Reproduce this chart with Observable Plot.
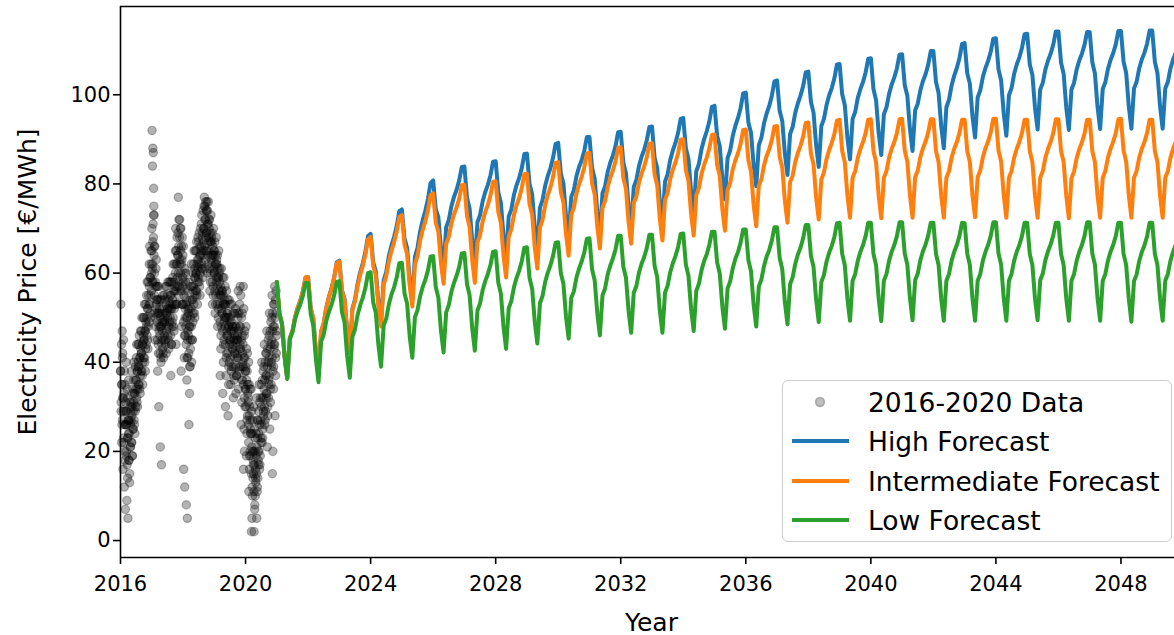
<!DOCTYPE html>
<html>
<head>
<meta charset="utf-8">
<script src="https://cdn.jsdelivr.net/npm/d3@7"></script>
<script src="https://cdn.jsdelivr.net/npm/@observablehq/plot@0.6"></script>
<style>
html, body { margin: 0; padding: 0; background: #fff; overflow: hidden; }
#wrap { position: relative; width: 1174px; height: 635px; overflow: hidden; font-family: "DejaVu Sans", sans-serif; color: #000; }
#wrap > svg { position: absolute; left: 0; top: 0; max-width: none !important; }
.lbl { position: absolute; white-space: nowrap; font-size: 25px; line-height: 1; }
#ylab { left: 27px; top: 281.5px; transform: translate(-50%, -50%) rotate(-90deg); }
#xlab { left: 651.5px; top: 622px; transform: translate(-50%, -50%); }
#legend { position: absolute; left: 782px; top: 380px; width: 390px; height: 162px; box-sizing: border-box;
  border: 1.6px solid #cccccc; border-radius: 6px; background: rgba(255,255,255,0.8); }
.row { position: absolute; left: 0; height: 30px; }
.row svg { position: absolute; left: 8px; top: 0; }
.row span { position: absolute; left: 85px; top: 50%; transform: translateY(-50%); font-size: 26.5px; white-space: nowrap; }
</style>
</head>
<body>
<div id="wrap"></div>
<script>
// ---------- axes ----------
const xDomain = [2016, 2050];
const yDomain = [-3.8, 119.8];
const xTicks = [2016, 2020, 2024, 2028, 2032, 2036, 2040, 2044, 2048];
const yTicks = [0, 20, 40, 60, 80, 100];

// ---------- observed 2016-2020 prices (per month: spread readings, then core readings) ----------
const obs2016 = [
  [38, 53, 31, 44, 22, 35, 47, 27, 42, 16],
  [29, 45, 22, 33, 12, 38, 26, 18, 7, 31],
  [26, 40, 19, 29, 9, 34, 23, 14, 5, 27],
  [24, 36, 18, 27, 13, 31, 21, 26, 29],
  [27, 38, 22, 30, 19, 33, 25, 29],
  [31, 40, 26, 33, 29, 36, 34],
  [36, 44, 31, 38, 34, 40, 39],
  [39, 46, 34, 41, 37, 43, 42],
  [42, 50, 37, 44, 40, 46, 45],
  [45, 53, 40, 47, 43, 49, 48],
  [50, 58, 45, 52, 48, 55, 53],
  [57, 66, 51, 59, 55, 62, 60]
];
const core2016 = [
  [38, 29, 35, 26, 41, 32], [32, 23, 29, 20, 35, 26], [29, 20, 26, 17, 32, 23], [27, 18, 24, 15, 30, 21],
  [31, 22, 28, 19, 34, 25], [36, 27, 33, 24, 39, 30], [41, 32, 38, 30, 44, 35], [44, 35, 41, 33, 47, 38],
  [47, 38, 44, 35, 50, 41], [50, 41, 47, 38, 53, 44], [55, 46, 52, 43, 58, 49], [62, 53, 59, 50, 65, 56]
];
const obs2017 = [
  [65, 92, 58, 84, 62, 88, 71, 87, 68, 79, 75, 73, 66],
  [55, 66, 45, 58, 50, 61, 53, 57, 52],
  [49, 57, 38, 54, 44, 51, 30, 47, 52],
  [46, 54, 21, 50, 41, 48, 17, 44, 49],
  [47, 55, 42, 51, 45, 49, 50],
  [49, 57, 44, 53, 47, 51, 52],
  [50, 58, 45, 54, 48, 52, 53],
  [50, 58, 37, 55, 44, 52, 48, 53],
  [54, 62, 48, 58, 52, 56, 57],
  [60, 70, 44, 65, 53, 62, 57, 64],
  [64, 77, 55, 72, 58, 68, 62, 70],
  [60, 70, 38, 66, 48, 63, 53, 57, 64]
];
const core2017 = [
  [70, 61, 67, 58, 73, 64], [60, 51, 57, 48, 63, 54], [54, 45, 51, 42, 57, 48], [51, 42, 48, 40, 54, 45],
  [52, 43, 49, 41, 55, 46], [54, 45, 51, 42, 57, 48], [55, 46, 52, 43, 58, 49], [55, 46, 52, 44, 58, 49],
  [59, 50, 56, 47, 62, 53], [65, 56, 62, 53, 68, 59], [69, 60, 66, 57, 72, 63], [65, 56, 62, 53, 68, 59]
];
const obs2018 = [
  [53, 66, 16, 60, 41, 56, 12, 50, 46, 58],
  [48, 60, 8, 54, 36, 50, 5, 45, 41, 52],
  [46, 58, 26, 52, 33, 48, 39, 43, 50],
  [52, 62, 40, 57, 45, 54, 49, 56],
  [57, 65, 51, 61, 55, 59, 60],
  [60, 67, 55, 63, 58, 61, 63],
  [62, 69, 57, 66, 60, 64, 65],
  [66, 73, 61, 69, 64, 67, 70],
  [70, 77, 61, 75, 65, 72, 68, 74],
  [69, 76, 60, 74, 64, 71, 67, 72],
  [65, 72, 56, 69, 60, 67, 63, 68],
  [62, 69, 53, 66, 57, 64, 60, 65]
];
const core2018 = [
  [58, 49, 55, 46, 61, 52], [53, 44, 50, 41, 56, 47], [51, 42, 48, 39, 54, 45], [57, 48, 54, 45, 60, 51],
  [62, 53, 59, 50, 65, 56], [65, 56, 62, 53, 68, 59], [67, 58, 64, 55, 70, 61], [71, 62, 68, 59, 74, 65],
  [75, 66, 72, 63, 76, 69], [74, 65, 71, 62, 76, 68], [70, 61, 67, 58, 73, 64], [67, 58, 64, 55, 70, 61]
];
const obs2019 = [
  [60, 67, 51, 64, 55, 62, 58, 63],
  [57, 64, 48, 61, 52, 59, 55, 60],
  [53, 61, 37, 57, 43, 55, 48, 51, 56],
  [51, 59, 33, 55, 40, 53, 45, 49, 54],
  [48, 57, 30, 53, 37, 50, 42, 46, 51],
  [46, 54, 28, 50, 35, 48, 40, 44, 49],
  [45, 53, 35, 49, 39, 47, 43, 48],
  [43, 51, 32, 47, 37, 45, 41, 46],
  [43, 52, 33, 48, 37, 45, 41, 46],
  [45, 56, 34, 51, 39, 48, 43, 57],
  [43, 55, 26, 50, 31, 46, 36, 40],
  [39, 57, 16, 52, 25, 46, 20, 41, 30, 34, 38]
];
const core2019 = [
  [65, 56, 62, 53, 68, 59], [62, 53, 59, 50, 65, 56], [58, 49, 55, 46, 61, 52], [56, 47, 53, 44, 59, 50],
  [53, 44, 50, 41, 56, 47], [51, 42, 48, 39, 54, 45], [50, 41, 47, 38, 53, 44], [48, 39, 45, 36, 51, 42],
  [48, 39, 45, 37, 51, 42], [50, 41, 47, 38, 53, 44], [48, 39, 45, 36, 51, 42], [44, 35, 41, 32, 47, 38]
];
const obs2020 = [
  [34, 48, 19, 43, 24, 38, 28, 35, 32],
  [26, 40, 11, 35, 16, 30, 20, 27, 24],
  [19, 34, 2, 29, 5, 24, 10, 20, 14, 17],
  [15, 30, 2, 25, 7, 20, 10, 16, 13],
  [19, 32, 5, 27, 11, 23, 14, 20, 17],
  [24, 35, 16, 31, 19, 27, 22],
  [30, 40, 22, 36, 25, 32, 28],
  [34, 44, 26, 40, 29, 37, 32],
  [37, 47, 21, 43, 28, 40, 32, 35],
  [41, 51, 25, 47, 31, 44, 35, 39],
  [45, 55, 15, 51, 20, 48, 34, 39, 43],
  [48, 57, 28, 54, 37, 51, 42, 46]
];
const core2020 = [
  [39, 30, 36, 27, 42, 33], [31, 22, 28, 19, 34, 25], [24, 15, 21, 12, 27, 18], [20, 11, 17, 8, 23, 14],
  [24, 15, 21, 12, 27, 18], [29, 20, 26, 17, 32, 23], [35, 26, 32, 23, 38, 29], [39, 30, 36, 27, 42, 33],
  [42, 33, 39, 30, 45, 36], [46, 37, 43, 34, 49, 40], [50, 41, 47, 38, 53, 44], [53, 44, 50, 41, 56, 47]
];
const obsYears = [2016, 2017, 2018, 2019, 2020];
const obsByYear = [obs2016, obs2017, obs2018, obs2019, obs2020];
const coreByYear = [core2016, core2017, core2018, core2019, core2020];

// ---------- monthly forecasts, Jan..Dec per row, years 2021..2049, then Jan 2050 ----------
const forecastYears = d3.range(2021, 2051);
const highForecast = [
  [58, 51, 48.5, 41.2, 36.3, 45.4, 47, 50.1, 52.2, 53.8, 55.9, 59],
  [59.1, 52.2, 49.8, 42.4, 37.5, 46.9, 48.8, 52.3, 54.7, 56.6, 59, 62.4],
  [62.8, 56.2, 54.2, 47.1, 42.5, 52, 54.1, 57.6, 60.2, 62.2, 64.8, 68.3],
  [68.8, 62.4, 60.4, 53.5, 49, 58.4, 60.3, 63.8, 66.2, 68.1, 70.5, 73.9],
  [74.3, 67.8, 65.7, 58.6, 54, 63.6, 65.7, 69.3, 71.9, 74, 76.6, 80.2],
  [80.8, 74.4, 72.5, 65.6, 61.2, 70.3, 71.9, 75, 77.1, 78.7, 80.8, 83.8],
  [83.9, 76.9, 74.5, 67.2, 62.3, 71.4, 73, 76.1, 78.2, 79.8, 81.9, 85],
  [85.1, 78.2, 75.8, 68.4, 63.5, 72.7, 74.3, 77.5, 79.7, 81.3, 83.5, 86.7],
  [86.8, 80, 77.7, 70.3, 65.5, 74.7, 76.4, 79.6, 81.8, 83.5, 85.8, 89],
  [89.2, 82.4, 80.1, 72.8, 68, 77.1, 78.6, 81.7, 83.8, 85.3, 87.4, 90.5],
  [90.5, 83.6, 81.2, 73.7, 68.8, 77.9, 79.5, 82.7, 84.8, 86.4, 88.5, 91.6],
  [91.7, 84.8, 82.4, 75.1, 70.2, 79.3, 80.9, 84, 86.1, 87.7, 89.8, 92.8],
  [92.9, 85.9, 83.6, 76.2, 71.3, 80.5, 82.2, 85.4, 87.5, 89.2, 91.4, 94.6],
  [94.8, 88, 85.6, 78.3, 73.5, 82.8, 84.5, 87.8, 90, 91.8, 94, 97.3],
  [97.5, 90.8, 88.5, 81.3, 76.5, 85.8, 87.5, 90.8, 93, 94.8, 97, 100.3],
  [100.5, 93.8, 91.5, 84.3, 79.5, 88.7, 90.4, 93.6, 95.8, 97.5, 99.8, 103],
  [103.2, 96.4, 94.1, 86.8, 82, 91.2, 92.8, 96, 98.1, 99.8, 101.9, 105],
  [105.2, 98.4, 96, 88.7, 83.8, 93, 94.6, 97.7, 99.9, 101.5, 103.7, 106.8],
  [106.9, 100.1, 97.7, 90.4, 85.5, 94.6, 96.2, 99.3, 101.3, 102.9, 105, 108.1],
  [108.2, 101.3, 98.8, 91.4, 86.5, 95.6, 97.2, 100.2, 102.3, 103.9, 105.9, 109],
  [109.1, 102.2, 99.8, 92.3, 87.4, 96.5, 98, 101, 103.1, 104.6, 106.7, 109.8],
  [109.8, 102.9, 100.4, 93, 88, 97.2, 98.9, 102.1, 104.3, 106, 108.2, 111.4],
  [111.6, 104.8, 102.5, 95.2, 90.4, 99.4, 101, 104, 106, 107.6, 109.6, 112.6],
  [112.7, 105.7, 103.2, 95.8, 90.8, 99.9, 101.5, 104.7, 106.8, 108.4, 110.5, 113.6],
  [113.7, 106.8, 104.5, 97.1, 92.2, 101.2, 102.7, 105.7, 107.7, 109.2, 111.2, 114.2],
  [114.2, 107.2, 104.7, 97.2, 92.1, 101.2, 102.7, 105.7, 107.7, 109.2, 111.2, 114.1],
  [114.1, 107.3, 104.8, 97.3, 92.3, 101.3, 102.8, 105.8, 107.8, 109.3, 111.3, 114.3],
  [114.3, 107.4, 104.9, 97.4, 92.4, 101.4, 102.9, 105.9, 107.9, 109.4, 111.4, 114.4],
  [114.4, 107.4, 104.9, 97.4, 92.4, 101.4, 102.9, 105.9, 107.9, 109.4, 111.4, 114.4],
  [114.4]
];
const intermediateForecast = [
  [58, 51, 48.5, 41.2, 36.3, 45.4, 47, 50.1, 52.2, 53.8, 55.9, 59],
  [59.1, 52.2, 49.8, 42.4, 37.5, 46.9, 48.8, 52.2, 54.6, 56.5, 58.9, 62.2],
  [62.6, 56, 53.9, 46.8, 42.2, 51.7, 53.7, 57.1, 59.6, 61.6, 64.1, 67.6],
  [68.1, 61.6, 59.5, 52.5, 48, 57.4, 59.3, 62.6, 65, 66.9, 69.3, 72.6],
  [73, 66.4, 64.3, 57.1, 52.5, 61.9, 63.9, 67.3, 69.7, 71.6, 74.1, 77.5],
  [77.9, 71.3, 69.3, 62.2, 57.6, 66.6, 68.1, 71.1, 73.2, 74.7, 76.7, 79.7],
  [79.8, 72.8, 70.3, 62.8, 57.8, 66.9, 68.5, 71.6, 73.7, 75.3, 77.4, 80.5],
  [80.6, 73.7, 71.3, 63.9, 59, 68.2, 69.8, 73, 75.2, 76.8, 79, 82.2],
  [82.3, 75.5, 73.2, 65.8, 61, 70.2, 72, 75.2, 77.5, 79.2, 81.5, 84.7],
  [84.9, 78.2, 75.9, 68.7, 63.9, 73, 74.7, 77.8, 79.9, 81.6, 83.7, 86.8],
  [87, 80.1, 77.7, 70.4, 65.5, 74.6, 76.2, 79.3, 81.4, 83, 85.1, 88.1],
  [88.2, 81.3, 78.9, 71.5, 66.6, 75.7, 77.2, 80.3, 82.3, 83.9, 86, 89],
  [89.1, 82.1, 79.7, 72.2, 67.3, 76.4, 78, 81.1, 83.2, 84.8, 86.9, 89.9],
  [90, 83.1, 80.7, 73.3, 68.4, 77.5, 79.1, 82.2, 84.3, 85.9, 88, 91],
  [91.1, 84.2, 81.8, 74.4, 69.5, 78.6, 80.2, 83.3, 85.3, 86.9, 89, 92.1],
  [92.2, 85.3, 82.8, 75.4, 70.5, 79.6, 81.1, 84.2, 86.3, 87.8, 89.9, 92.9],
  [93, 86.1, 83.6, 76.2, 71.3, 80.4, 81.9, 85, 87, 88.6, 90.6, 93.7],
  [93.8, 86.8, 84.4, 76.9, 72, 81, 82.6, 85.6, 87.6, 89.2, 91.2, 94.2],
  [94.4, 87.4, 84.9, 77.4, 72.4, 81.4, 82.9, 85.9, 87.9, 89.4, 91.4, 94.4],
  [94.5, 87.4, 84.9, 77.4, 72.3, 81.4, 82.9, 85.9, 87.9, 89.4, 91.4, 94.5],
  [94.6, 87.5, 85, 77.5, 72.4, 81.5, 83, 86, 88, 89.5, 91.5, 94.5],
  [94.5, 87.4, 84.9, 77.4, 72.4, 81.4, 82.9, 85.9, 87.9, 89.4, 91.4, 94.4],
  [94.4, 87.4, 84.9, 77.4, 72.5, 81.5, 83, 86, 88, 89.5, 91.5, 94.6],
  [94.6, 87.5, 85, 77.5, 72.4, 81.4, 82.9, 85.9, 87.9, 89.4, 91.4, 94.4],
  [94.4, 87.4, 84.9, 77.4, 72.4, 81.4, 82.9, 85.9, 87.9, 89.4, 91.4, 94.5],
  [94.5, 87.4, 84.9, 77.4, 72.3, 81.3, 82.8, 85.8, 87.8, 89.3, 91.3, 94.4],
  [94.4, 87.4, 84.9, 77.4, 72.4, 81.4, 82.9, 85.9, 87.9, 89.4, 91.4, 94.5],
  [94.6, 87.5, 85, 77.5, 72.4, 81.4, 82.9, 85.9, 87.9, 89.4, 91.4, 94.4],
  [94.4, 87.4, 84.9, 77.4, 72.4, 81.4, 82.9, 85.9, 87.9, 89.4, 91.4, 94.4],
  [94.4]
];
const lowForecast = [
  [58, 51, 48.5, 41.2, 36.3, 45.2, 46.7, 49.6, 51.5, 53, 54.9, 57.8],
  [57.8, 50.8, 48.2, 40.6, 35.5, 44.6, 46.2, 49.3, 51.3, 52.9, 55, 58],
  [58.2, 51.2, 48.9, 41.4, 36.5, 45.7, 47.4, 50.6, 52.8, 54.5, 56.7, 60],
  [60.2, 53.4, 51.1, 43.8, 39, 48.2, 49.8, 53, 55.2, 56.8, 59, 62.2],
  [62.3, 55.5, 53.2, 45.8, 41, 50.1, 51.7, 54.8, 56.9, 58.5, 60.6, 63.7],
  [63.8, 56.9, 54.5, 47.1, 42.2, 51.2, 52.8, 55.8, 57.8, 59.4, 61.4, 64.4],
  [64.5, 57.5, 55, 47.6, 42.6, 51.6, 53.2, 56.2, 58.2, 59.8, 61.8, 64.8],
  [64.9, 57.9, 55.4, 48, 43, 52.1, 53.7, 56.8, 58.9, 60.5, 62.6, 65.7],
  [65.8, 58.9, 56.5, 49.1, 44.2, 53.3, 54.9, 58, 60.1, 61.7, 63.8, 66.8],
  [66.9, 60, 57.6, 50.2, 45.3, 54.4, 55.9, 59, 61, 62.6, 64.6, 67.7],
  [67.8, 60.8, 58.4, 51, 46, 55, 56.6, 59.7, 61.7, 63.3, 65.3, 68.4],
  [68.4, 61.4, 59, 51.6, 46.6, 55.6, 57.1, 60.1, 62.1, 63.6, 65.6, 68.6],
  [68.6, 61.6, 59.1, 51.6, 46.6, 55.6, 57.2, 60.2, 62.2, 63.8, 65.8, 68.8],
  [68.9, 61.9, 59.4, 52, 47, 56, 57.6, 60.6, 62.7, 64.2, 66.3, 69.3],
  [69.3, 62.4, 59.9, 52.5, 47.5, 56.5, 58.1, 61.1, 63.2, 64.7, 66.8, 69.8],
  [69.8, 62.9, 60.4, 53, 48, 57, 58.6, 61.6, 63.7, 65.2, 67.3, 70.3],
  [70.3, 63.4, 60.9, 53.5, 48.5, 57.5, 59.1, 62.1, 64.2, 65.7, 67.8, 70.8],
  [70.8, 63.9, 61.4, 54, 49, 58, 59.6, 62.6, 64.6, 66.1, 68.1, 71.2],
  [71.3, 64.3, 61.8, 54.3, 49.3, 58.3, 59.8, 62.8, 64.8, 66.3, 68.3, 71.3],
  [71.3, 64.3, 61.8, 54.3, 49.2, 58.3, 59.8, 62.8, 64.8, 66.3, 68.3, 71.4],
  [71.4, 64.4, 61.9, 54.4, 49.4, 58.4, 59.9, 62.9, 64.9, 66.4, 68.4, 71.3],
  [71.3, 64.3, 61.8, 54.3, 49.3, 58.3, 59.8, 62.8, 64.8, 66.3, 68.3, 71.3],
  [71.2, 64.3, 61.8, 54.3, 49.3, 58.3, 59.8, 62.8, 64.8, 66.3, 68.3, 71.4],
  [71.4, 64.4, 61.9, 54.4, 49.3, 58.3, 59.8, 62.8, 64.8, 66.3, 68.3, 71.3],
  [71.3, 64.3, 61.8, 54.3, 49.4, 58.4, 59.9, 62.9, 64.9, 66.4, 68.4, 71.3],
  [71.3, 64.3, 61.8, 54.3, 49.3, 58.3, 59.8, 62.8, 64.8, 66.3, 68.3, 71.4],
  [71.4, 64.4, 61.9, 54.4, 49.3, 58.3, 59.8, 62.8, 64.8, 66.3, 68.3, 71.3],
  [71.3, 64.3, 61.8, 54.3, 49.1, 58.2, 59.7, 62.7, 64.7, 66.2, 68.2, 71.3],
  [71.3, 64.3, 61.8, 54.3, 49.3, 58.3, 59.8, 62.8, 64.8, 66.3, 68.3, 71.3],
  [71.3]
];

const seriesNames = ["High Forecast", "Intermediate Forecast", "Low Forecast"];
const seriesColors = ["#1f77b4", "#ff7f0e", "#2ca02c"];
const seriesData = [highForecast, intermediateForecast, lowForecast];
const obsLabel = "2016-2020 Data";

// ---------- tidy tables ----------
const obs = [];
obsYears.forEach((yr, yi) => {
  obsByYear[yi].forEach((vals, m) => {
    vals.forEach((v, i) => obs.push({t: yr + (m + (i + 0.5) / vals.length) / 12, v}));
  });
  coreByYear[yi].forEach((vals, m) => {
    vals.forEach((v, i) => obs.push({t: yr + (m + (i + 0.25) / vals.length) / 12, v}));
  });
});
const forecast = [];
seriesData.forEach((rows, si) => {
  rows.forEach((row, yi) => {
    row.forEach((v, m) => forecast.push({series: seriesNames[si], t: forecastYears[yi] + m / 12, v}));
  });
});

const chart = Plot.plot({
  width: 1200,
  height: 635,
  marginLeft: 120,
  marginRight: 17,
  marginTop: 6,
  marginBottom: 78,
  x: {domain: xDomain},
  y: {domain: yDomain},
  style: {fontFamily: "DejaVu Sans, sans-serif", fontSize: "21px", background: "transparent", color: "black", overflow: "visible", maxWidth: "none"},
  marks: [
    Plot.dot(obs, {x: "t", y: "v", r: 4.2, fill: "black", fillOpacity: 0.3, stroke: "black", strokeOpacity: 0.28, strokeWidth: 1.2}),
    ...seriesNames.map((name, i) =>
      Plot.line(forecast.filter(d => d.series === name), {x: "t", y: "v", stroke: seriesColors[i], strokeWidth: 4, strokeLinejoin: "round"})
    ),
    Plot.ruleX([xDomain[0]], {stroke: "black", strokeWidth: 1.6}),
    Plot.ruleY(yDomain, {stroke: "black", strokeWidth: 1.6}),
    Plot.axisX({ticks: xTicks, tickFormat: d => String(d), tickSize: 7, tickPadding: 12, strokeWidth: 1.6, fontSize: 21, label: null}),
    Plot.axisY({ticks: yTicks, tickFormat: d => String(d), tickSize: 7, tickPadding: 3, strokeWidth: 1.6, fontSize: 21, label: null})
  ]
});

const wrap = document.getElementById("wrap");
wrap.appendChild(chart);

// axis titles
const ylab = document.createElement("div");
ylab.className = "lbl"; ylab.id = "ylab"; ylab.textContent = "Electricity Price [€/MWh]";
wrap.appendChild(ylab);
const xlab = document.createElement("div");
xlab.className = "lbl"; xlab.id = "xlab"; xlab.textContent = "Year";
wrap.appendChild(xlab);

// legend
const legend = document.createElement("div");
legend.id = "legend";
const entries = [{label: obsLabel, kind: "dot"}].concat(seriesNames.map((n, i) => ({label: n, kind: "line", color: seriesColors[i]})));
entries.forEach((e, i) => {
  const row = document.createElement("div");
  row.className = "row";
  row.style.top = (6 + i * 39.3) + "px";
  row.style.width = "100%";
  const sw = e.kind === "dot"
    ? `<svg width="60" height="30"><circle cx="29" cy="15" r="4.5" fill="black" fill-opacity="0.25" stroke="black" stroke-opacity="0.25" stroke-width="1.5"/></svg>`
    : `<svg width="60" height="30"><line x1="1" x2="58" y1="15" y2="15" stroke="${e.color}" stroke-width="4"/></svg>`;
  row.innerHTML = sw + `<span>${e.label}</span>`;
  legend.appendChild(row);
});
wrap.appendChild(legend);
</script>
</body>
</html>
